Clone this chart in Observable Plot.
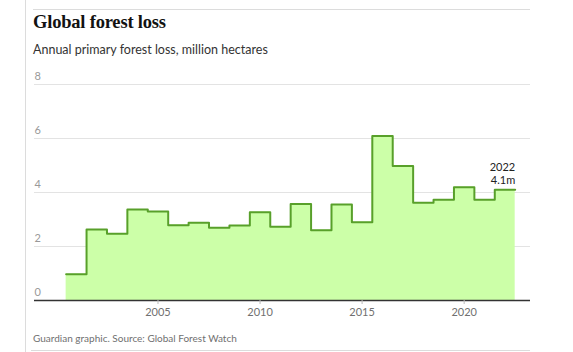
<!DOCTYPE html>
<html>
<head>
<meta charset="utf-8">
<script src="https://cdn.jsdelivr.net/npm/d3@7"></script>
<script src="https://cdn.jsdelivr.net/npm/@observablehq/plot@0.6"></script>
<style>
  html, body { margin: 0; padding: 0; background: #fff; }
  body { width: 573px; height: 352px; position: relative; overflow: hidden; }
  .vline { position: absolute; left: 25px; top: 0; width: 1px; height: 352px; background: #dcdcdc; }
  .topline { position: absolute; left: 33px; top: 9px; width: 497px; height: 1px; background: #dcdcdc; }
  .botline { position: absolute; left: 31px; top: 350px; width: 499px; height: 1px; background: #dcdcdc; }
  .title { position: absolute; left: 33px; top: 12px; font-family: "Liberation Serif", "DejaVu Serif", serif; font-weight: bold; font-size: 18.5px; color: #121212; letter-spacing: -0.2px; white-space: nowrap; }
  .subtitle { position: absolute; left: 33px; top: 42px; font-family: Lato, "Open Sans", sans-serif; font-size: 12.5px; color: #333; white-space: nowrap; }
  .caption { position: absolute; left: 33px; top: 332px; font-family: Lato, "Open Sans", sans-serif; font-size: 10px; color: #707070; white-space: nowrap; }
  #chart { position: absolute; left: 0; top: 70px; }
</style>
</head>
<body>
<div class="vline"></div>
<div class="topline"></div>
<div class="title">Global forest loss</div>
<div class="subtitle">Annual primary forest loss, million hectares</div>
<div id="chart"></div>
<div class="caption">Guardian graphic. Source: Global Forest Watch</div>
<div class="botline"></div>
<script>
const years = [2001, 2002, 2003, 2004, 2005, 2006, 2007, 2008, 2009, 2010, 2011,
               2012, 2013, 2014, 2015, 2016, 2017, 2018, 2019, 2020, 2021, 2022];
const lossMha = [0.97, 2.63, 2.47, 3.37, 3.30, 2.79, 2.88, 2.69, 2.78, 3.27, 2.73,
                 3.57, 2.60, 3.56, 2.90, 6.09, 4.98, 3.62, 3.73, 4.19, 3.73, 4.10];
const yTicks = [0, 2, 4, 6, 8];
const xTicks = [2005, 2010, 2015, 2020];

const data = years.map((year, i) => ({year, value: lossMha[i]}));
// Each year occupies a band centred on the year: build step outline points
const steps = data.flatMap(d => [
  {x: d.year - 0.5, value: d.value},
  {x: d.year + 0.5, value: d.value}
]);
const last = data[data.length - 1];

const chart = Plot.plot({
  width: 573,
  height: 255,
  marginLeft: 34,
  marginRight: 43,
  marginTop: 14,
  marginBottom: 25,
  style: {fontFamily: "Lato, 'Open Sans', sans-serif", fontSize: "11px", background: "transparent"},
  x: {domain: [1998.95, 2023.25]},
  y: {domain: [0, 8]},
  marks: [
    Plot.gridY(yTicks.filter(t => t > 0), {stroke: "#e3e3e3", strokeOpacity: 1, strokeWidth: 1}),
    Plot.axisY(yTicks, {anchor: "left", tickSize: 0, tickPadding: 0, textAnchor: "start", dy: -8, fill: "#999", label: null}),
    Plot.areaY(steps, {x: "x", y1: 0, y2: "value", fill: "#ccffa8", curve: "linear"}),
    Plot.line(steps, {x: "x", y: "value", stroke: "#58a02a", strokeWidth: 2, curve: "linear"}),
    Plot.ruleY([0], {stroke: "#333", strokeWidth: 1.5}),
    Plot.axisX(xTicks, {anchor: "bottom", tickSize: 4, tickPadding: 4, stroke: "#bbb", fill: "#707070", tickFormat: d => String(d), label: null}),
    Plot.text([last], {
      x: d => d.year + 0.5,
      y: "value",
      text: d => `${d.year}\n${d.value.toFixed(1)}m`,
      textAnchor: "end",
      lineAnchor: "bottom",
      lineHeight: 1.15,
      dy: -6,
      fill: "#222",
      fontSize: 11
    })
  ]
});
document.getElementById("chart").appendChild(chart);
</script>
</body>
</html>
